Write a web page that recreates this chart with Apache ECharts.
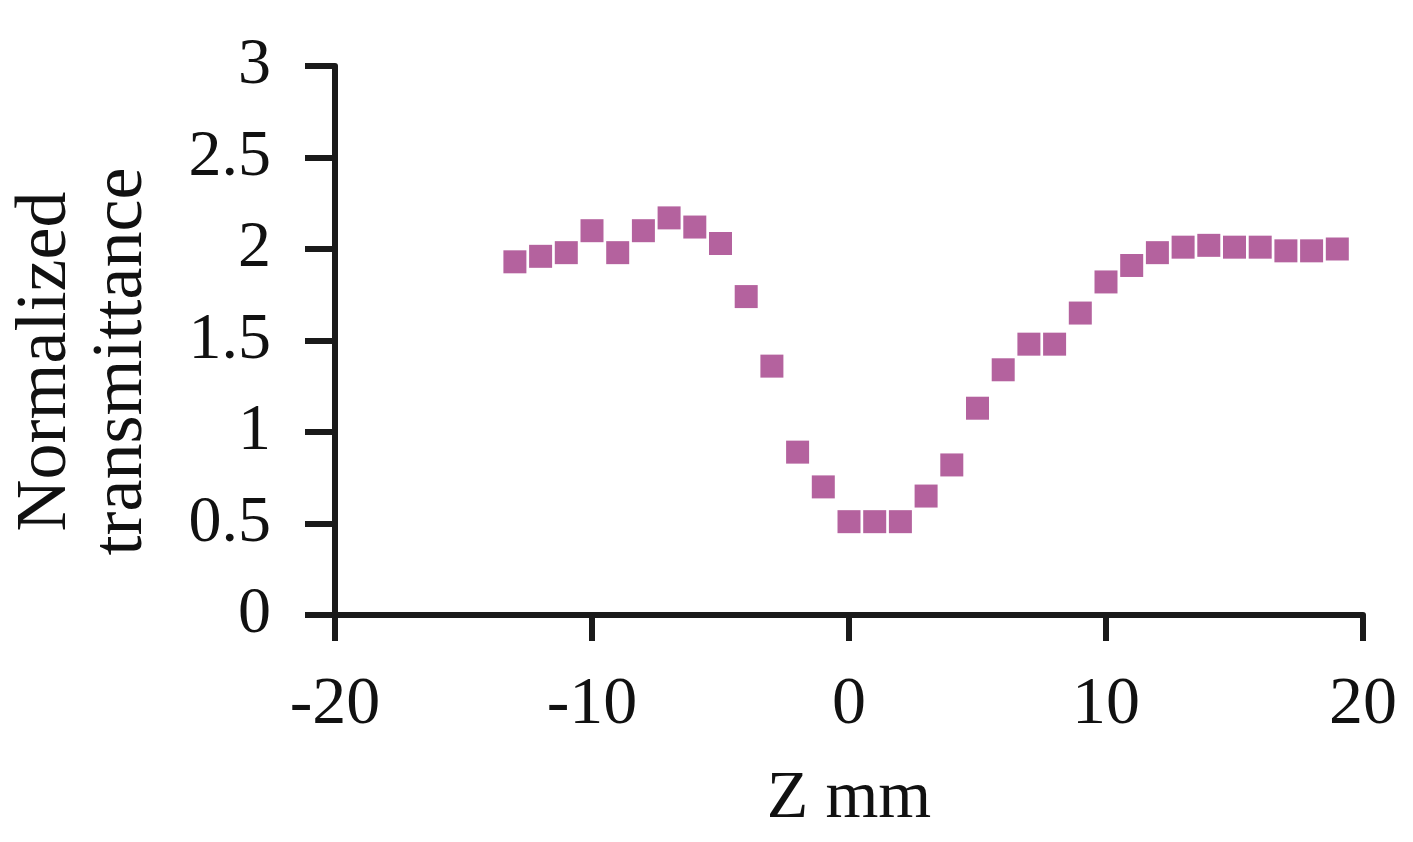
<!DOCTYPE html>
<html>
<head>
<meta charset="utf-8">
<script src="https://cdn.jsdelivr.net/npm/echarts@6/dist/echarts.min.js"></script>
<style>
  html, body { margin: 0; padding: 0; background: #fff; }
  #chart { width: 1413px; height: 842px; }
</style>
</head>
<body>
<div id="chart"></div>
<script>
// Z position (mm) and normalized transmittance
var zPos = [-13, -12, -11, -10, -9, -8, -7, -6, -5, -4, -3, -2, -1, 0, 1, 2,
  3, 4, 5, 6, 7, 8, 9, 10, 11, 12, 13, 14, 15, 16, 17, 18, 19];
var transmittance = [1.93, 1.96, 1.98, 2.10, 1.98, 2.10, 2.17, 2.12, 2.03, 1.74, 1.36, 0.89, 0.70, 0.51, 0.51, 0.51,
  0.65, 0.82, 1.13, 1.34, 1.48, 1.48, 1.65, 1.82, 1.91, 1.98, 2.01, 2.02, 2.01, 2.01, 1.99, 1.99, 2.0];
var yTicks = ["0", "0.5", "1", "1.5", "2", "2.5", "3"];

var points = zPos.map(function (z, i) { return [z, transmittance[i]]; });

var font = "'Liberation Serif', 'Times New Roman', serif";
var ink = "#1a1a1a";

var chart = echarts.init(document.getElementById("chart"));
chart.setOption({
  animation: false,
  backgroundColor: "#ffffff",
  grid: { left: 335, right: 50, top: 66, bottom: 227, containLabel: false, outerBoundsMode: "none" },
  xAxis: {
    type: "value",
    min: -20,
    max: 20,
    interval: 10,
    name: "Z mm",
    nameLocation: "middle",
    nameGap: 150,
    nameTextStyle: { fontFamily: font, fontSize: 68, color: "#111" },
    axisLine: { show: true, onZero: false, lineStyle: { color: ink, width: 6 } },
    axisTick: { show: true, length: 26, lineStyle: { color: ink, width: 6 } },
    axisLabel: { fontFamily: font, fontSize: 68, color: "#111", margin: 56 },
    splitLine: { show: false }
  },
  yAxis: {
    type: "value",
    min: 0,
    max: 3,
    interval: 0.5,
    name: "Normalized\ntransmittance",
    nameLocation: "middle",
    nameGap: 175,
    nameRotate: 90,
    nameTextStyle: { fontFamily: font, fontSize: 72, color: "#111", lineHeight: 76, padding: [0, 42, 0, 0] },
    axisLine: { show: true, onZero: false, lineStyle: { color: ink, width: 6 } },
    axisTick: { show: true, length: 30, lineStyle: { color: ink, width: 6 } },
    axisLabel: {
      fontFamily: font, fontSize: 66, color: "#111", margin: 64,
      formatter: function (v) { return yTicks[Math.round(v * 2)]; }
    },
    splitLine: { show: false }
  },
  series: [{
    type: "scatter",
    data: points,
    symbol: "rect",
    symbolSize: 23,
    itemStyle: { color: "#b4629e", opacity: 1 }
  }]
});
</script>
</body>
</html>
